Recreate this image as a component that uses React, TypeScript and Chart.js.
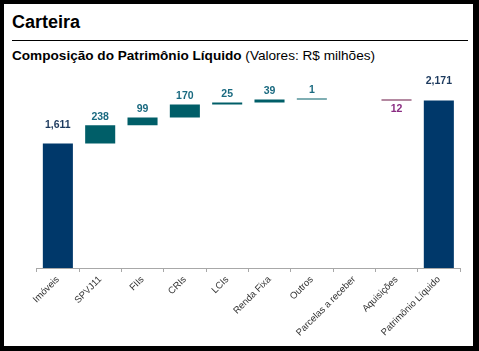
import React, { useEffect, useRef } from "react";
import { Chart, registerables } from "chart.js";

Chart.register(...registerables);

const categories = [
  "Imóveis",
  "SPVJ11",
  "FIIs",
  "CRIs",
  "LCIs",
  "Renda Fixa",
  "Outros",
  "Parcelas a receber",
  "Aquisições",
  "Patrimônio Líquido",
];
// "total" bars start at zero, "delta" bars float on the running sum
const kinds = ["total", "delta", "delta", "delta", "delta", "delta", "delta", "delta", "delta", "total"];
const values: (number | null)[] = [1611, 238, 99, 170, 25, 39, 1, null, -12, 2171];

const TOTAL_COLOR = "#00386a";
const UP_COLOR = "#005e68";
const DOWN_COLOR = "#6a1545";
const TOTAL_LABEL = "#1d3a5e";
const UP_LABEL = "#1a6a80";
const DOWN_LABEL = "#8a2c82";

const FONT = "'Liberation Sans', Arial, sans-serif";

export default function App() {
  const ref = useRef<HTMLCanvasElement | null>(null);

  useEffect(() => {
    if (!ref.current) return;
    let running = 0;
    const ranges: ([number, number] | null)[] = [];
    const colors: string[] = [];
    values.forEach((v, i) => {
      if (v === null) {
        ranges.push(null);
        colors.push(UP_COLOR);
        return;
      }
      if (kinds[i] === "total") {
        ranges.push([0, v]);
        running = v;
        colors.push(TOTAL_COLOR);
      } else {
        ranges.push([running, running + v]);
        running += v;
        colors.push(v >= 0 ? UP_COLOR : DOWN_COLOR);
      }
    });

    const labelPlugin = {
      id: "wfLabels",
      afterDatasetsDraw(chart: any) {
        const ctx = chart.ctx;
        const meta = chart.getDatasetMeta(0);
        ctx.save();
        ctx.font = `bold 10.5px ${FONT}`;
        ctx.textAlign = "center";
        ctx.textBaseline = "middle";
        meta.data.forEach((el: any, i: number) => {
          const v = values[i];
          if (v === null || el.skip) return;
          const top = Math.min(el.y, el.base);
          const bottom = Math.max(el.y, el.base);
          const txt = Math.abs(v).toLocaleString("en-US");
          if (kinds[i] === "total") {
            ctx.fillStyle = TOTAL_LABEL;
            ctx.fillText(txt, el.x, top - 19);
          } else if (v >= 0) {
            ctx.fillStyle = UP_LABEL;
            ctx.fillText(txt, el.x, top - 8);
          } else {
            ctx.fillStyle = DOWN_LABEL;
            ctx.fillText(txt, el.x, bottom + 9);
          }
        });
        ctx.restore();
      },
    };

    const chart = new Chart(ref.current, {
      type: "bar",
      data: {
        labels: categories,
        datasets: [
          {
            data: ranges as any,
            backgroundColor: colors,
            borderWidth: 0,
            categoryPercentage: 1,
            barPercentage: 0.71,
            minBarLength: 1,
          },
        ],
      },
      options: {
        animation: false,
        responsive: false,
        devicePixelRatio: 1,
        layout: { padding: { left: 36.7, right: 19, top: 82.7, bottom: 0 } },
        plugins: {
          legend: { display: false },
          tooltip: { enabled: false },
        },
        scales: {
          y: {
            display: false,
            min: 0,
            max: 2400,
          },
          x: {
            afterFit: (scale: any) => {
              scale.height = 83;
            },
            border: { display: true, color: "#a8a8a8", width: 1 },
            grid: {
              display: true,
              drawOnChartArea: false,
              drawTicks: true,
              tickLength: 4,
              color: "#a8a8a8",
              offset: true,
            },
            ticks: {
              minRotation: 45,
              maxRotation: 45,
              autoSkip: false,
              padding: 2,
              color: "#333333",
              font: { family: FONT, size: 9.5 },
            },
          },
        },
      },
      plugins: [labelPlugin],
    });
    return () => chart.destroy();
  }, []);

  return (
    <div
      style={{
        position: "fixed",
        left: 0,
        top: 0,
        width: 479,
        height: 351,
        background: "#000",
        overflow: "hidden",
        fontFamily: FONT,
      }}
    >
      <div
        style={{
          position: "absolute",
          left: 4,
          top: 4,
          width: 469,
          height: 342,
          background: "#fff",
        }}
      />
      <div
        style={{
          position: "absolute",
          left: 12,
          top: 13,
          fontSize: 18,
          lineHeight: "18px",
          fontWeight: "bold",
          color: "#000",
          whiteSpace: "nowrap",
        }}
      >
        Carteira
      </div>
      <div
        style={{
          position: "absolute",
          left: 12,
          top: 40,
          width: 456,
          height: 1,
          background: "#000",
        }}
      />
      <div
        style={{
          position: "absolute",
          left: 12,
          top: 48.5,
          fontSize: 13.6,
          lineHeight: "13.6px",
          color: "#000",
          whiteSpace: "nowrap",
        }}
      >
        <span style={{ fontWeight: "bold" }}>Composição do Patrimônio Líquido</span>
        <span> (Valores: R$ milhões)</span>
      </div>
      <canvas
        ref={ref}
        width={479}
        height={351}
        style={{ position: "absolute", left: 0, top: 0, width: 479, height: 351 }}
      />
    </div>
  );
}
